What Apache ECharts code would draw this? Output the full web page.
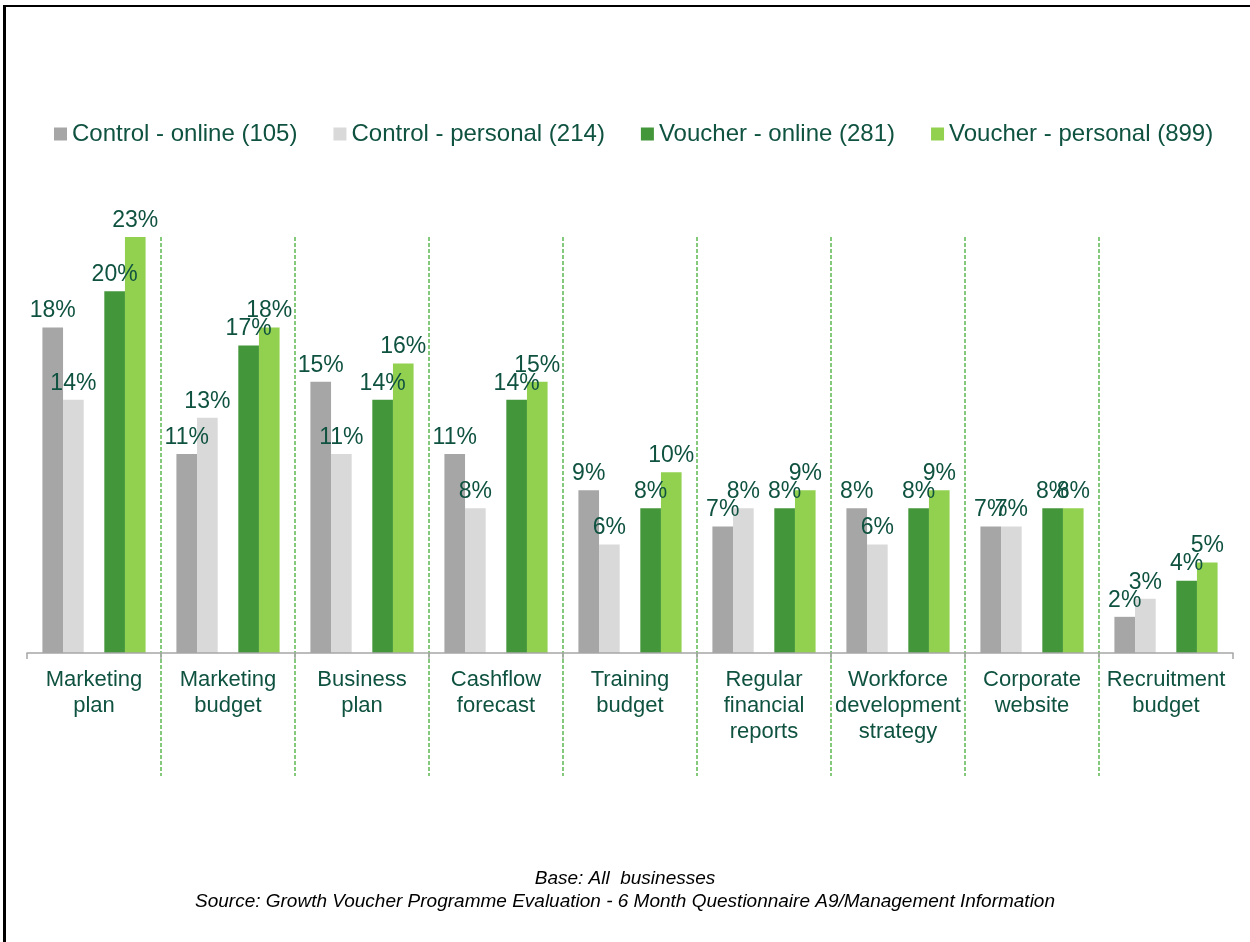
<!DOCTYPE html>
<html>
<head>
<meta charset="utf-8">
<title>Growth Voucher Programme – management practices</title>
<script src="https://cdn.jsdelivr.net/npm/echarts@6/dist/echarts.min.js"></script>
<style>
  html, body { margin: 0; padding: 0; background: #fff; }
  #frame { position: relative; width: 1250px; height: 942px; overflow: hidden; }
  #chart { position: absolute; left: 0; top: 0; width: 1250px; height: 942px; }
  /* frame edges along the top and left of the panel */
  #edgeTop { position: absolute; left: 3px; top: 5px; width: 1247px; height: 2px; background: #000; }
  #edgeLeft { position: absolute; left: 3px; top: 5px; width: 3px; height: 937px; background: #000; }
</style>
</head>
<body>
<div id="frame">
  <div id="chart"></div>
  <div id="edgeTop"></div>
  <div id="edgeLeft"></div>
</div>
<script>
// Categories (management practices in place)
const categories = [
  'Marketing\nplan',
  'Marketing\nbudget',
  'Business\nplan',
  'Cashflow\nforecast',
  'Training\nbudget',
  'Regular\nfinancial\nreports',
  'Workforce\ndevelopment\nstrategy',
  'Corporate\nwebsite',
  'Recruitment\nbudget'
];

// Share of businesses (%) per group
const controlOnline   = [18, 11, 15, 11, 9, 7, 8, 7, 2];
const controlPersonal = [14, 13, 11, 8, 6, 8, 6, 7, 3];
const voucherOnline   = [20, 17, 14, 14, 8, 8, 8, 8, 4];
const voucherPersonal = [23, 18, 16, 15, 10, 9, 9, 8, 5];

const seriesNames = [
  'Control - online (105)',
  'Control - personal (214)',
  'Voucher - online (281)',
  'Voucher - personal (899)'
];

const footnotes = [
  'Base: All  businesses',
  'Source: Growth Voucher Programme Evaluation - 6 Month Questionnaire A9/Management Information'
];

const FONT = '"Liberation Sans", Arial, Helvetica, sans-serif';
const TEXT_GREEN = '#0F5240';
const SEP_GREEN = '#5DB853';
const colors = ['#A6A6A6', '#D9D9D9', '#43963A', '#92D050'];

function barSeries(name, data, color) {
  return {
    name: name,
    type: 'bar',
    data: data,
    xAxisIndex: 0,
    yAxisIndex: 0,
    barGap: '0%',
    barCategoryGap: '23%',
    itemStyle: { color: color },
    label: {
      show: true,
      position: 'top',
      distance: 5,
      formatter: '{c}%',
      color: TEXT_GREEN,
      fontFamily: FONT,
      fontSize: 23
    },
    emphasis: { disabled: true }
  };
}

// empty slot between the control pair and the voucher pair
const spacer = categories.map(() => null);

const separatorLine = {
  show: true,
  showMinLine: false,
  showMaxLine: false,
  lineStyle: { color: SEP_GREEN, width: 1.5, type: [4, 2] }
};

const chart = echarts.init(document.getElementById('chart'), null, { renderer: 'canvas' });

chart.setOption({
  animation: false,
  backgroundColor: '#ffffff',
  color: colors,
  textStyle: { fontFamily: FONT },
  title: {
    text: footnotes.join('\n'),
    left: 'center',
    top: 862,
    textStyle: {
      fontFamily: FONT,
      fontStyle: 'italic',
      fontWeight: 'normal',
      fontSize: 19,
      lineHeight: 23,
      color: '#000000'
    }
  },
  legend: {
    data: seriesNames,
    left: 49,
    top: 117,
    itemWidth: 13,
    itemHeight: 13,
    itemGap: 36,
    icon: 'rect',
    textStyle: { color: TEXT_GREEN, fontFamily: FONT, fontSize: 24 }
  },
  grid: [
    // bars
    { left: 27, right: 17, top: 237, height: 416, containLabel: false },
    // separators continuing below the category axis
    { left: 27, right: 17, top: 653, height: 123, containLabel: false }
  ],
  xAxis: [
    {
      type: 'category',
      gridIndex: 0,
      data: categories,
      axisLine: { show: true, lineStyle: { color: '#A6A6A6', width: 1.5 } },
      axisTick: { show: true, length: 6, lineStyle: { color: '#A6A6A6', width: 1.5 } },
      axisLabel: {
        color: TEXT_GREEN,
        fontFamily: FONT,
        fontSize: 22,
        lineHeight: 26,
        margin: 14,
        interval: 0
      },
      splitLine: separatorLine,
      z: 3
    },
    {
      type: 'category',
      gridIndex: 1,
      data: categories,
      axisLine: { show: false },
      axisTick: { show: false },
      axisLabel: { show: false },
      splitLine: separatorLine
    }
  ],
  yAxis: [
    { type: 'value', gridIndex: 0, min: 0, max: 23, show: false, splitLine: { show: false } },
    { type: 'value', gridIndex: 1, min: 0, max: 1, show: false, splitLine: { show: false } }
  ],
  series: [
    barSeries(seriesNames[0], controlOnline, colors[0]),
    barSeries(seriesNames[1], controlPersonal, colors[1]),
    { name: '', type: 'bar', data: spacer, xAxisIndex: 0, yAxisIndex: 0, barGap: '0%', barCategoryGap: '23%', silent: true },
    barSeries(seriesNames[2], voucherOnline, colors[2]),
    barSeries(seriesNames[3], voucherPersonal, colors[3])
  ]
});
</script>
</body>
</html>
